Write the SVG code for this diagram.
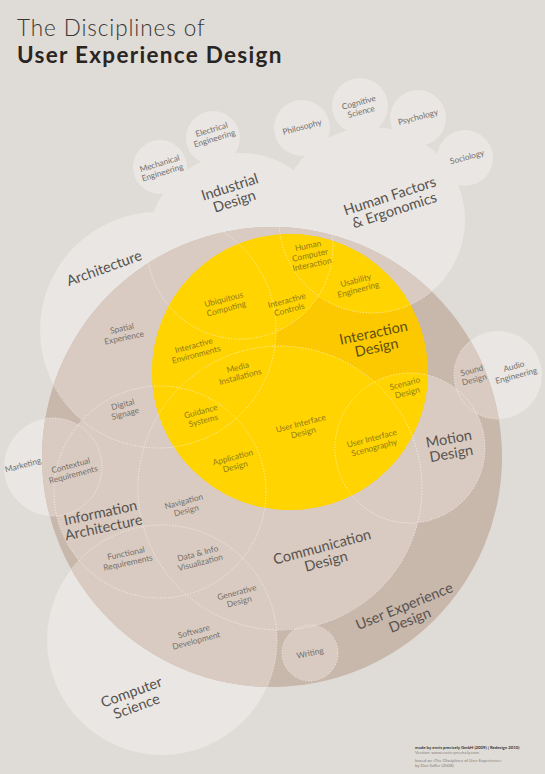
<svg xmlns="http://www.w3.org/2000/svg" width="545" height="774" viewBox="0 0 545 774">
<style>
.bg{fill:#dfdbd6}
.light{fill:#e9e6e3}
.ux{fill:#c8b7ab}
.beige{fill:#d9cbc1}
.yb{fill:#fcc900}
.yl{fill:#ffd400}
.dash{fill:none;stroke:#ffffff;stroke-width:0.8;stroke-dasharray:1.2 1.6;stroke-opacity:0.8}
.t{font-family:Lato,"Liberation Sans",sans-serif;fill:#57524e;text-anchor:middle}
.s{font-size:8.3px;fill:#75706b}
.b{font-size:14.5px}
.y{fill:#927a1c}
.title{font-family:Lato,"Liberation Sans",sans-serif;fill:#2a2522;font-size:22.5px}
.cr{font-family:Lato,"Liberation Sans",sans-serif;font-size:4.3px;fill:#8a8580}
</style>
<defs>
<clipPath id="uxClip"><circle cx="272" cy="457" r="230"/></clipPath>
<clipPath id="yClip"><circle cx="290" cy="372" r="138"/></clipPath>
</defs>

<rect class="bg" x="0" y="0" width="545" height="774"/>

<g id="title">
<text class="title" x="17" y="36" font-weight="300" letter-spacing="0.9" style="fill:#3a3532">The Disciplines of</text>
<text class="title" x="17" y="63" font-weight="700" letter-spacing="1.3">User Experience Design</text>
</g>

<g id="outer-shapes">
<circle class="light" cx="160" cy="167" r="27"/>
<circle class="light" cx="213" cy="138" r="27"/>
<circle class="light" cx="302" cy="128" r="28"/>
<circle class="light" cx="360" cy="106" r="28"/>
<circle class="light" cx="418" cy="118" r="28"/>
<circle class="light" cx="465" cy="158" r="28"/>
<circle class="light" cx="240" cy="246" r="93"/>
<circle class="light" cx="372" cy="220" r="93"/>
<circle class="light" cx="158" cy="330" r="118"/>
<circle class="light" cx="53" cy="467" r="49"/>
<circle class="light" cx="498" cy="375" r="44"/>
<circle class="light" cx="162" cy="640" r="115"/>
</g>

<g id="ux-shapes">
<circle class="ux" cx="272" cy="457" r="230"/>
<g clip-path="url(#uxClip)">
<circle class="beige" cx="240" cy="246" r="93"/>
<circle class="beige" cx="372" cy="220" r="93"/>
<circle class="beige" cx="158" cy="330" r="118"/>
<circle class="beige" cx="160" cy="492" r="106"/>
<circle class="beige" cx="280" cy="488" r="142"/>
<circle class="beige" cx="410" cy="448" r="75"/>
<circle class="beige" cx="162" cy="640" r="115"/>
<circle class="beige" cx="53" cy="467" r="49"/>
<circle class="beige" cx="498" cy="375" r="44"/>
<circle class="beige" cx="310" cy="653" r="28"/>
</g>
</g>

<g id="yellow-shapes">
<circle class="yb" cx="290" cy="372" r="138"/>
<g clip-path="url(#yClip)">
<circle class="yl" cx="240" cy="246" r="93"/>
<circle class="yl" cx="372" cy="220" r="93"/>
<circle class="yl" cx="158" cy="330" r="118"/>
<circle class="yl" cx="160" cy="492" r="106"/>
<circle class="yl" cx="280" cy="488" r="142"/>
<circle class="yl" cx="410" cy="448" r="75"/>
</g>
</g>

<g id="connectors" clip-path="url(#uxClip)">
<circle class="dash" cx="240" cy="246" r="93"/>
<circle class="dash" cx="372" cy="220" r="93"/>
<circle class="dash" cx="158" cy="330" r="118"/>
<circle class="dash" cx="160" cy="492" r="106"/>
<circle class="dash" cx="280" cy="488" r="142"/>
<circle class="dash" cx="410" cy="448" r="75"/>
<circle class="dash" cx="162" cy="640" r="115"/>
<circle class="dash" cx="53" cy="467" r="49"/>
<circle class="dash" cx="498" cy="375" r="44"/>
<circle class="dash" cx="310" cy="653" r="28"/>
</g>

<g id="n-mechanical"><text class="t s" transform="translate(161,168) rotate(-17)"><tspan x="0" y="-1.9">Mechanical</tspan><tspan x="0" y="7.6">Engineering</tspan></text></g>
<g id="n-electrical"><text class="t s" transform="translate(213,134) rotate(-17)"><tspan x="0" y="-1.9">Electrical</tspan><tspan x="0" y="7.6">Engineering</tspan></text></g>
<g id="n-philosophy"><text class="t s" transform="translate(302,127) rotate(-15)"><tspan x="0" y="2.9">Philosophy</tspan></text></g>
<g id="n-cognitive"><text class="t s" transform="translate(360,107) rotate(-15)"><tspan x="0" y="-1.9">Cognitive</tspan><tspan x="0" y="7.6">Science</tspan></text></g>
<g id="n-psychology"><text class="t s" transform="translate(418,117) rotate(-15)"><tspan x="0" y="2.9">Psychology</tspan></text></g>
<g id="n-sociology"><text class="t s" transform="translate(467,157) rotate(-15)"><tspan x="0" y="2.9">Sociology</tspan></text></g>

<g id="n-industrial"><text class="t b" transform="translate(232,194) rotate(-18)"><tspan x="0" y="-2.4">Industrial</tspan><tspan x="0" y="12.6">Design</tspan></text></g>
<g id="n-humanfactors"><text class="t b" transform="translate(392,203) rotate(-18)"><tspan x="0" y="-2.4">Human Factors</tspan><tspan x="0" y="12.6">&amp; Ergonomics</tspan></text></g>
<g id="n-architecture"><text class="t b" transform="translate(104,268) rotate(-20)"><tspan x="0" y="5.1">Architecture</tspan></text></g>
<g id="n-spatial"><text class="t s" transform="translate(123,333) rotate(-12)"><tspan x="0" y="-1.9">Spatial</tspan><tspan x="0" y="7.6">Experience</tspan></text></g>

<g id="n-hci"><text class="t s y" transform="translate(310,255) rotate(-12)"><tspan x="0" y="-6.6">Human</tspan><tspan x="0" y="2.9">Computer</tspan><tspan x="0" y="12.4">Interaction</tspan></text></g>
<g id="n-usability"><text class="t s y" transform="translate(357,285) rotate(-15)"><tspan x="0" y="-1.9">Usability</tspan><tspan x="0" y="7.6">Engineering</tspan></text></g>
<g id="n-ubiquitous"><text class="t s y" transform="translate(225,304) rotate(-15)"><tspan x="0" y="-1.9">Ubiquitous</tspan><tspan x="0" y="7.6">Computing</tspan></text></g>
<g id="n-controls"><text class="t s y" transform="translate(288,305) rotate(-15)"><tspan x="0" y="-1.9">Interactive</tspan><tspan x="0" y="7.6">Controls</tspan></text></g>
<g id="n-interaction"><text class="t b" style="fill:#5e4e14" transform="translate(375,340) rotate(-12)"><tspan x="0" y="-2.4">Interaction</tspan><tspan x="0" y="12.6">Design</tspan></text></g>
<g id="n-environments"><text class="t s y" transform="translate(195,350) rotate(-15)"><tspan x="0" y="-1.9">Interactive</tspan><tspan x="0" y="7.6">Environments</tspan></text></g>
<g id="n-media"><text class="t s y" transform="translate(239,372) rotate(-15)"><tspan x="0" y="-1.9">Media</tspan><tspan x="0" y="7.6">Installations</tspan></text></g>
<g id="n-scenario"><text class="t s y" transform="translate(406,388) rotate(-15)"><tspan x="0" y="-1.9">Scenario</tspan><tspan x="0" y="7.6">Design</tspan></text></g>
<g id="n-signage"><text class="t s" transform="translate(124,409) rotate(-15)"><tspan x="0" y="-1.9">Digital</tspan><tspan x="0" y="7.6">Signage</tspan></text></g>
<g id="n-guidance"><text class="t s y" transform="translate(202,416) rotate(-15)"><tspan x="0" y="-1.9">Guidance</tspan><tspan x="0" y="7.6">Systems</tspan></text></g>
<g id="n-uid"><text class="t s y" transform="translate(302,428) rotate(-15)"><tspan x="0" y="-1.9">User Interface</tspan><tspan x="0" y="7.6">Design</tspan></text></g>
<g id="n-uis"><text class="t s y" transform="translate(373,443) rotate(-15)"><tspan x="0" y="-1.9">User Interface</tspan><tspan x="0" y="7.6">Scenography</tspan></text></g>
<g id="n-application"><text class="t s y" transform="translate(234,462) rotate(-15)"><tspan x="0" y="-1.9">Application</tspan><tspan x="0" y="7.6">Design</tspan></text></g>
<g id="n-motion"><text class="t b" transform="translate(450,446) rotate(-10)"><tspan x="0" y="-2.4">Motion</tspan><tspan x="0" y="12.6">Design</tspan></text></g>
<g id="n-sound"><text class="t s" transform="translate(473,375) rotate(-15)"><tspan x="0" y="-1.9">Sound</tspan><tspan x="0" y="7.6">Design</tspan></text></g>
<g id="n-audio"><text class="t s" transform="translate(515,371) rotate(-15)"><tspan x="0" y="-1.9">Audio</tspan><tspan x="0" y="7.6">Engineering</tspan></text></g>
<g id="n-marketing"><text class="t s" transform="translate(23,465) rotate(-15)"><tspan x="0" y="2.9">Marketing</tspan></text></g>
<g id="n-contextual"><text class="t s" transform="translate(72,470) rotate(-15)"><tspan x="0" y="-1.9">Contextual</tspan><tspan x="0" y="7.6">Requirements</tspan></text></g>
<g id="n-ia"><text class="t b" transform="translate(102,520) rotate(-12)"><tspan x="0" y="-2.4">Information</tspan><tspan x="0" y="12.6">Architecture</tspan></text></g>
<g id="n-navigation"><text class="t s" transform="translate(185,506) rotate(-15)"><tspan x="0" y="-1.9">Navigation</tspan><tspan x="0" y="7.6">Design</tspan></text></g>
<g id="n-functional"><text class="t s" transform="translate(127,558) rotate(-12)"><tspan x="0" y="-1.9">Functional</tspan><tspan x="0" y="7.6">Requirements</tspan></text></g>
<g id="n-datavis"><text class="t s" transform="translate(199,558) rotate(-15)"><tspan x="0" y="-1.9">Data &amp; Info</tspan><tspan x="0" y="7.6">Visualization</tspan></text></g>
<g id="n-communication"><text class="t b" transform="translate(324,554) rotate(-15)"><tspan x="0" y="-2.4">Communication</tspan><tspan x="0" y="12.6">Design</tspan></text></g>
<g id="n-generative"><text class="t s" transform="translate(238,597) rotate(-15)"><tspan x="0" y="-1.9">Generative</tspan><tspan x="0" y="7.6">Design</tspan></text></g>
<g id="n-software"><text class="t s" transform="translate(195,636) rotate(-15)"><tspan x="0" y="-1.9">Software</tspan><tspan x="0" y="7.6">Development</tspan></text></g>
<g id="n-writing"><text class="t s" transform="translate(310,653) rotate(-12)"><tspan x="0" y="2.9">Writing</tspan></text></g>
<g id="n-ux"><text class="t b" transform="translate(407,613) rotate(-22)"><tspan x="0" y="-2.4">User Experience</tspan><tspan x="0" y="12.6">Design</tspan></text></g>
<g id="n-cs"><text class="t b" transform="translate(134,699) rotate(-20)"><tspan x="0" y="-2.4">Computer</tspan><tspan x="0" y="12.6">Science</tspan></text></g>

<g id="credits">
<text class="cr" x="415" y="749" style="fill:#3a3532;font-weight:700">made by envis precisely GmbH (2009) | Redesign 2010)</text>
<text class="cr" x="415" y="754">Version: www.envis-precisely.com</text>
<text class="cr" x="415" y="762">based on »The Disciplines of User Experience«</text>
<text class="cr" x="415" y="767">by Dan Saffer (2008)</text>
</g>
</svg>
